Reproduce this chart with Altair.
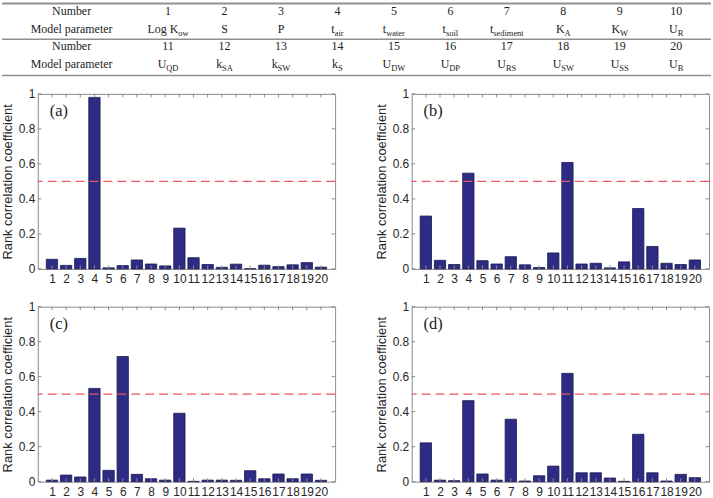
import altair as alt
import pandas as pd

# Parameter table
numbers = list(range(1, 21))
param_base = ["Log K", "S", "P", "t", "t", "t", "t", "K", "K", "U",
              "U", "k", "k", "k", "U", "U", "U", "U", "U", "U"]
param_sub = ["ow", "", "", "air", "water", "soil", "sediment", "A", "W", "R",
             "QD", "SA", "SW", "S", "DW", "DP", "RS", "SW", "SS", "B"]
row_headers = ["Number", "Model parameter", "Number", "Model parameter"]

# Rank correlation coefficients for the four cases
coef_a = [0.055, 0.020, 0.060, 0.980, 0.006, 0.019, 0.051, 0.028, 0.017, 0.233,
          0.064, 0.025, 0.009, 0.027, 0.001, 0.021, 0.013, 0.023, 0.036, 0.010]
coef_b = [0.302, 0.049, 0.025, 0.547, 0.047, 0.028, 0.070, 0.023, 0.008, 0.091,
          0.608, 0.028, 0.032, 0.006, 0.040, 0.345, 0.128, 0.032, 0.025, 0.051]
coef_c = [0.009, 0.038, 0.027, 0.533, 0.065, 0.715, 0.042, 0.017, 0.009, 0.391,
          0.002, 0.009, 0.009, 0.008, 0.063, 0.017, 0.044, 0.017, 0.044, 0.008]
coef_d = [0.222, 0.009, 0.006, 0.463, 0.044, 0.009, 0.357, 0.004, 0.034, 0.089,
          0.619, 0.051, 0.051, 0.021, 0.002, 0.271, 0.051, 0.004, 0.042, 0.023]
panel_tags = ["(a)", "(b)", "(c)", "(d)"]
y_ticks = [0, 0.2, 0.4, 0.6, 0.8, 1]
threshold = 0.5

SERIF = "'Liberation Serif', 'Times New Roman', Times, serif"
SANS = "'Liberation Sans', Arial, Helvetica, sans-serif"
TEXT = "#222222"
FRAME = "#8a8a8a"
BAR = "#2d2b84"
EDGE = "#1b1a50"
DASH = "#ee5561"

PW, PH = 299, 176
AXIS_EXT = 36                 # room taken by the y axis left of each panel
FULL_W = 713
TAB_W, TAB_H = FULL_W - AXIS_EXT, 74
BASE_SIZE, SUB_SIZE = 12, 8.5

# Approximate Times advance widths (em) used to centre "base + subscript" pairs
EM = {"L": .611, "o": .5, "g": .5, " ": .25, "K": .722, "S": .556, "P": .556,
      "t": .278, "U": .722, "k": .5, "w": .722, "a": .444, "i": .278, "r": .333,
      "e": .444, "s": .389, "l": .278, "d": .5, "m": .778, "n": .5, "A": .722,
      "W": .944, "R": .667, "Q": .722, "D": .722, "B": .667}


def text_width(s, size):
    return sum(EM.get(ch, .5) for ch in s) * size


# table columns, in the table's own frame (its origin sits over the panels' y axis)
col_x = [167 - AXIS_EXT, 678 - AXIS_EXT]
px_per_col = (col_x[1] - col_x[0]) / 9

rows = []
for i, n in enumerate(numbers):
    col = i % 10 + 1
    band = i // 10
    shift = (text_width(param_base[i], BASE_SIZE) - text_width(param_sub[i], SUB_SIZE)) / 2
    rows.append({"col": col, "nrow": 2 * band, "prow": 2 * band + 1,
                 "label": str(n), "base": param_base[i], "sub": param_sub[i],
                 "edge": col + shift / px_per_col})
tab_df = pd.DataFrame(rows)
head_df = pd.DataFrame({"row": [0, 1, 2, 3], "text": row_headers})

tab_x = alt.Scale(domain=[1, 10], range=col_x)
tab_y = alt.Scale(domain=[0, 3], range=[9, 62])

nums = alt.Chart(tab_df).mark_text(font=SERIF, fontSize=BASE_SIZE, color=TEXT).encode(
    x=alt.X("col:Q", scale=tab_x, axis=None),
    y=alt.Y("nrow:Q", scale=tab_y, axis=None),
    text="label:N",
)
bases = alt.Chart(tab_df).mark_text(font=SERIF, fontSize=BASE_SIZE, color=TEXT, align="right").encode(
    x=alt.X("edge:Q", scale=tab_x, axis=None),
    y=alt.Y("prow:Q", scale=tab_y, axis=None),
    text="base:N",
)
subs = alt.Chart(tab_df).mark_text(font=SERIF, fontSize=SUB_SIZE, color=TEXT, align="left", dy=4).encode(
    x=alt.X("edge:Q", scale=tab_x, axis=None),
    y=alt.Y("prow:Q", scale=tab_y, axis=None),
    text="sub:N",
)
heads = alt.Chart(head_df).mark_text(font=SERIF, fontSize=BASE_SIZE, color=TEXT).encode(
    x=alt.value(70 - AXIS_EXT),
    y=alt.Y("row:Q", scale=tab_y, axis=None),
    text="text:N",
)
one = pd.DataFrame({"k": [0]})
lines = [
    alt.Chart(one).mark_rule(color="#8f8f8f", strokeWidth=sw).encode(
        x=alt.value(-AXIS_EXT), x2=alt.value(TAB_W), y=alt.value(yy))
    for yy, sw in [(1, 2), (37, 1.5), (73.5, 1.5)]
]
table = alt.layer(*lines, heads, nums, bases, subs).properties(
    width=TAB_W, height=TAB_H, view=alt.ViewBackground(stroke="transparent")
)

X_AXIS = alt.Axis(values=numbers, title=None, labelOverlap=False,
                  labelFlush=False, labelPadding=5)
Y_AXIS = alt.Axis(values=y_ticks, format="~g", labelPadding=3, labelOverlap=False,
                  title="Rank correlation coefficient", titlePadding=4)


def panel(values, tag):
    df = pd.DataFrame({"number": numbers, "coef": values})
    xs = alt.Scale(domain=[0, 21], nice=False, zero=False)
    ys = alt.Scale(domain=[0, 1], nice=False)
    bars = alt.Chart(df).transform_calculate(
        lo="datum.number - 0.4", hi="datum.number + 0.4"
    ).mark_bar(color=BAR, stroke=EDGE, strokeWidth=0.8).encode(
        x=alt.X("lo:Q", scale=xs, axis=X_AXIS),
        x2="hi:Q",
        y=alt.Y("coef:Q", scale=ys, axis=Y_AXIS),
        y2=alt.datum(0),
    )
    xt = pd.DataFrame({"t": numbers})
    yt = pd.DataFrame({"t": y_ticks})
    bottom = alt.Chart(xt).mark_rule(color=FRAME).encode(
        x=alt.X("t:Q", scale=xs, axis=X_AXIS), y=alt.value(PH), y2=alt.value(PH - 3.5))
    top = alt.Chart(xt).mark_rule(color=FRAME).encode(
        x=alt.X("t:Q", scale=xs, axis=X_AXIS), y=alt.value(0), y2=alt.value(3.5))
    left = alt.Chart(yt).mark_rule(color=FRAME).encode(
        y=alt.Y("t:Q", scale=ys, axis=Y_AXIS), x=alt.value(0), x2=alt.value(3.5))
    right = alt.Chart(yt).mark_rule(color=FRAME).encode(
        y=alt.Y("t:Q", scale=ys, axis=Y_AXIS), x=alt.value(PW), x2=alt.value(PW - 3.5))
    ref = alt.Chart(one).mark_rule(color=DASH, strokeWidth=1.2, strokeDash=[9, 5]).encode(
        y=alt.datum(threshold, scale=ys, axis=Y_AXIS))
    lab = alt.Chart(pd.DataFrame({"tag": [tag]})).mark_text(
        font=SERIF, fontSize=16.5, color=TEXT, align="left", baseline="middle"
    ).encode(x=alt.value(12), y=alt.value(17.5), text="tag:N")
    return alt.layer(bars, ref, bottom, top, left, right, lab).properties(width=PW, height=PH)


pa, pb, pc, pd_ = [panel(v, t) for v, t in zip([coef_a, coef_b, coef_c, coef_d], panel_tags)]

grid = alt.vconcat(
    alt.hconcat(pa, pb, spacing=37),
    alt.hconcat(pc, pd_, spacing=37),
    spacing=14,
)
chart = alt.vconcat(table, grid, spacing=10).configure(
    padding={"left": 0, "top": 0, "right": 0, "bottom": 0},
    background="white",
).configure_view(
    stroke=FRAME, strokeWidth=1
).configure_axis(
    domain=False, ticks=False, grid=False, labelOverlap=False,
    labelFont=SANS, labelFontSize=12, labelColor="#262626",
    titleFont=SANS, titleFontSize=13, titleFontWeight="normal", titleColor="#262626",
)

chart.save("out.html", embed_options={"renderer": "svg", "actions": False})
